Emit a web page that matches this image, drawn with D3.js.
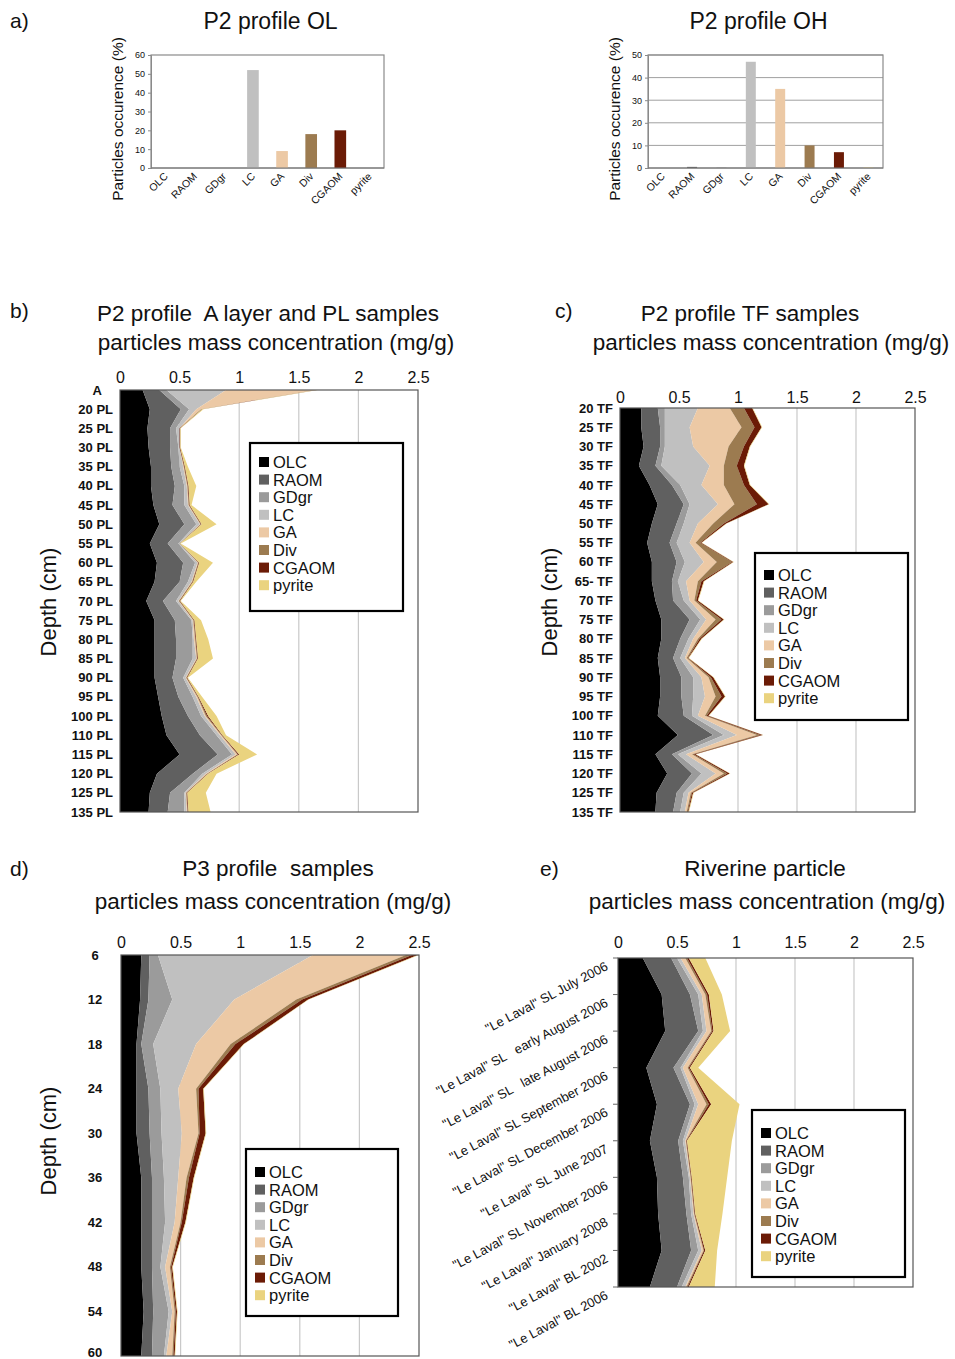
<!DOCTYPE html>
<html><head><meta charset="utf-8">
<script src="https://cdn.jsdelivr.net/npm/d3@7"></script>
<style>
body{margin:0;background:#fff}
text{font-family:"Liberation Sans",Arial,sans-serif;fill:#111;white-space:pre}
</style>
</head><body>
<svg id="c" width="955" height="1359"></svg>
<script>
// ---------- categories / tick labels ----------
const keys = ["OLC","RAOM","GDgr","LC","GA","Div","CGAOM","pyrite"];
const colors = ["#000000","#606060","#9b9b9b","#c0c0c0","#ecc9a5","#9c7b50","#6b1b06","#ead37f"];

const olValues = [0,0,0,52,9,18,20,0];
const ohValues = [0,0.5,0.2,47,35,10,7,0.2];
const olTicks = [0,10,20,30,40,50,60];
const ohTicks = [0,10,20,30,40,50];
const massTicks = [0,0.5,1,1.5,2,2.5];

// ---------- panel b: P2 A layer and PL ----------
const bLabels = ["A","20 PL","25 PL","30 PL","35 PL","40 PL","45 PL","50 PL","55 PL","60 PL","65 PL","70 PL","75 PL","80 PL","85 PL","90 PL","95 PL","100 PL","110 PL","115 PL","120 PL","125 PL","135 PL"];
const bOLC   = [.19,.25,.23,.24,.26,.26,.28,.33,.25,.31,.29,.22,.29,.29,.29,.29,.32,.35,.39,.50,.31,.25,.24];
const bRAOM  = [.14,.26,.19,.18,.17,.20,.16,.21,.15,.22,.21,.14,.17,.18,.18,.15,.17,.22,.28,.32,.30,.17,.16];
const bGDgr  = [.06,.07,.05,.07,.07,.08,.10,.10,.09,.10,.07,.11,.14,.14,.14,.09,.12,.11,.14,.12,.08,.12,.14];
const bLC    = [.50,.06,.03,.01,.03,.02,.03,.03,.01,.02,.03,.02,.01,.01,.03,.02,.03,.03,.03,.03,.03,.01,.02];
const bGA    = [.75,.04,0,0,.005,.005,.005,.005,0,.005,.005,.005,.005,.01,.005,.005,.01,.01,.01,.015,.01,.005,.005];
const bDiv   = [.005,.01,0,0,.005,.005,.005,.005,.005,.005,.005,.005,.005,.005,.005,.005,.005,.01,.005,.005,.005,.005,.005];
const bCGAOM = [.005,0,.005,.005,.005,.005,.005,.005,0,.005,.005,.005,.005,.005,.005,.005,.005,.01,.005,.01,.005,.005,.005];
const bPyrite= [.01,.01,.005,.005,.025,.065,.015,.125,.005,.115,.025,.005,.055,.10,.125,.005,.03,.07,.03,.15,.07,.155,.185];

// ---------- panel c: P2 TF ----------
const cLabels = ["20 TF","25 TF","30 TF","35 TF","40 TF","45 TF","50 TF","55 TF","60 TF","65- TF","70 TF","75 TF","80 TF","85 TF","90 TF","95 TF","100 TF","110 TF","115 TF","120 TF","125 TF","135 TF"];
const cOLC   = [.18,.18,.20,.16,.25,.32,.27,.23,.27,.27,.30,.35,.35,.32,.34,.34,.32,.49,.30,.40,.31,.30];
const cRAOM  = [.14,.16,.14,.14,.19,.22,.21,.19,.21,.17,.15,.24,.16,.13,.18,.18,.22,.30,.14,.21,.17,.15];
const cGDgr  = [.06,.04,.04,.05,.07,.05,.06,.06,.07,.05,.09,.09,.07,.06,.10,.10,.07,.09,.05,.08,.06,.06];
const cLC    = [.28,.21,.24,.41,.18,.24,.12,.11,.16,.07,.05,.05,.04,.04,.07,.10,.05,.11,.07,.12,.04,.04];
const cGA    = [.27,.44,.30,.12,.19,.14,.13,.05,.11,.10,.04,.08,.04,.015,.06,.09,.06,.17,.05,.07,.02,.015];
const cDiv   = [.12,.11,.13,.11,.17,.19,.09,.04,.13,.03,.015,.05,.015,.01,.02,.05,.015,.03,.015,.03,.01,.01];
const cCGAOM = [.07,.06,.05,.06,.05,.10,.02,.01,.01,.02,.015,.02,.015,.005,.02,.03,.015,.02,.015,.02,.01,.005];
const cPyrite= [.005,.005,.005,.005,.005,.005,.005,.005,.005,.005,.005,.005,.005,.005,.005,.005,.005,.005,.005,.005,.005,.005];

// ---------- panel d: P3 profile ----------
const dLabels = ["6","12","18","24","30","36","42","48","54","60"];
const dOLC   = [.17,.16,.13,.13,.13,.17,.17,.17,.19,.17];
const dRAOM  = [.07,.07,.04,.10,.11,.09,.09,.09,.08,.09];
const dGDgr  = [.07,.20,.10,.10,.10,.10,.11,.07,.13,.10];
const dLC    = [1.30,.52,.36,.15,.17,.12,.08,.04,.03,.02];
const dGA    = [.78,.52,.29,.15,.14,.07,.05,.04,.02,.05];
const dDiv   = [.05,.05,.04,.02,.01,.02,.01,.01,.01,.01];
const dCGAOM = [.05,.05,.07,.04,.05,.04,.03,.01,.01,.01];
const dPyrite= [.01,.005,.005,.005,.005,.005,.005,.005,.005,.005];

// ---------- panel e: riverine ----------
const eLabels = ["\"Le Laval\" SL July 2006","\"Le Laval\" SL   early August 2006","\"Le Laval\" SL   late August 2006","\"Le Laval\" SL September 2006","\"Le Laval\" SL December 2006","\"Le Laval\" SL June 2007","\"Le Laval\" SL November 2006","\"Le Laval\" January 2008","\"Le Laval\" BL 2002","\"Le Laval\" BL 2006"];
const eOLC   = [.21,.37,.40,.24,.33,.27,.33,.34,.37,.27];
const eRAOM  = [.24,.24,.28,.23,.28,.24,.22,.24,.25,.23];
const eGDgr  = [.05,.07,.04,.06,.04,.04,.05,.04,.06,.04];
const eLC    = [.03,.03,.03,.02,.03,.02,.01,.02,.03,.03];
const eGA    = [.04,.03,.04,.04,.07,.005,.005,.005,.015,.01];
const eDiv   = [.015,.015,.01,.01,.02,.005,.005,.005,.005,.01];
const eCGAOM = [.015,.015,.01,.01,.02,.005,.005,.005,.01,.01];
const ePyrite= [.14,.11,.14,.07,.24,.38,.30,.23,.10,.22];

const svg = d3.select("#c");
const FONT = "'Liberation Sans',Arial,sans-serif";

function txt(x,y,s,size,opts={}){
  const t = svg.append("text").attr("x",x).attr("y",y).attr("font-size",size).text(s)
    .attr("text-anchor",opts.anchor||"start");
  if(opts.rotate) t.attr("transform",`rotate(${opts.rotate},${x},${y})`);
  if(opts.weight) t.attr("font-weight",opts.weight);
  return t;
}

// ---------- bar panels ----------
function barPanel(o){
  const g = svg.append("g");
  const x = d3.scaleBand().domain(keys).range([o.left,o.right]).paddingInner(o.pad).paddingOuter(o.pad/2);
  const y = d3.scaleLinear().domain([0,o.max]).range([o.bottom,o.top]);
  if(o.grid){
    g.selectAll("line.grid").data(o.ticks.filter(t=>t>0)).join("line")
      .attr("x1",o.left).attr("x2",o.right).attr("y1",d=>y(d)).attr("y2",d=>y(d))
      .attr("stroke","#a0a0a0").attr("stroke-width",1);
  }
  g.append("rect").attr("x",o.left).attr("y",o.top).attr("width",o.right-o.left).attr("height",o.bottom-o.top)
    .attr("fill","none").attr("stroke","#8a8a8a").attr("stroke-width",1.2);
  g.selectAll("rect.bar").data(o.values).join("rect").attr("class","bar")
    .attr("x",(d,i)=>x(keys[i])).attr("width",x.bandwidth())
    .attr("y",d=>y(d)).attr("height",d=>y(0)-y(d)).attr("fill",(d,i)=>colors[i]);
  const ax = g.append("g").attr("transform",`translate(${o.left},0)`)
    .call(d3.axisLeft(y).tickValues(o.ticks).tickSize(3).tickPadding(3));
  ax.select(".domain").attr("stroke","#8a8a8a");
  ax.selectAll(".tick line").attr("stroke","#8a8a8a");
  ax.selectAll("text").attr("font-size",9).attr("font-family",FONT).attr("fill","#333");
  g.append("line").attr("x1",o.left).attr("x2",o.right).attr("y1",y(0)).attr("y2",y(0)).attr("stroke","#777");
  g.selectAll("text.cat").data(keys).join("text").attr("class","cat")
    .attr("transform",d=>`translate(${x(d)+x.bandwidth()/2+3},${o.bottom+9}) rotate(-45)`)
    .attr("text-anchor","end").attr("font-size",10.5).attr("fill","#222").text(d=>d);
  txt((o.left+o.right)/2+o.titleDx,29,o.title,23,{anchor:"middle"});
  txt(o.ylabX,119,"Particles occurence (%)",15.5,{anchor:"middle",rotate:-90});
}

barPanel({left:151,right:384,top:55,bottom:168,max:60,ticks:olTicks,values:olValues,pad:0.6,grid:false,title:"P2 profile OL",titleDx:3,ylabX:123});
barPanel({left:648,right:883,top:55,bottom:168,max:50,ticks:ohTicks,values:ohValues,pad:0.66,grid:true,title:"P2 profile OH",titleDx:-7,ylabX:620});

// ---------- stacked area panels ----------
function legend(x0,y0,w,h,off){
  const g = svg.append("g");
  g.append("rect").attr("x",x0).attr("y",y0).attr("width",w).attr("height",h)
    .attr("fill","#fff").attr("stroke","#000").attr("stroke-width",2.2);
  const it = g.selectAll("g.it").data(keys).join("g").attr("transform",(d,i)=>`translate(${x0+9},${y0+off+i*17.6})`);
  it.append("rect").attr("x",0).attr("y",-5).attr("width",10).attr("height",10).attr("fill",(d,i)=>colors[i]);
  it.append("text").attr("x",14).attr("y",6).attr("font-size",16.5).text(d=>d);
}

function stackPanel(o){
  const rows = o.labels.map((l,i)=>{const r={label:l}; keys.forEach((k,j)=>{r[k]=o.series[j][i];}); return r;});
  const series = d3.stack().keys(keys)(rows);
  const x = d3.scaleLinear().domain([0,2.5]).range([o.left,o.right]);
  const y = d3.scalePoint().domain(o.labels).range([o.top,o.bottom]);
  const id = "clip"+o.name;
  svg.append("clipPath").attr("id",id).append("rect").attr("x",o.left).attr("y",o.top)
    .attr("width",o.right-o.left).attr("height",o.bottom-o.top);
  const g = svg.append("g");
  g.selectAll("line.grid").data(massTicks.slice(1,-1)).join("line")
    .attr("x1",d=>x(d)).attr("x2",d=>x(d)).attr("y1",o.top).attr("y2",o.bottom)
    .attr("stroke","#c9c9c9").attr("stroke-width",1.2);
  const area = d3.area().y(d=>y(d.data.label)).x0(d=>x(d[0])).x1(d=>x(d[1]));
  g.append("g").attr("clip-path",`url(#${id})`).selectAll("path").data(series).join("path")
    .attr("d",area).attr("fill",(d,i)=>colors[i]);
  g.append("rect").attr("x",o.left).attr("y",o.top).attr("width",o.right-o.left).attr("height",o.bottom-o.top)
    .attr("fill","none").attr("stroke","#555").attr("stroke-width",1.2);
  const ax = g.append("g").attr("transform",`translate(0,${o.top})`)
    .call(d3.axisTop(x).tickValues(massTicks).tickFormat(d3.format("~g")).tickSize(0).tickPadding(o.xpad));
  ax.select(".domain").remove();
  ax.selectAll("text").attr("font-size",16).attr("font-family",FONT).attr("fill","#111");
  if(o.rotLabels){
    g.selectAll("line.tk").data(o.labels).join("line").attr("x1",o.left-5).attr("x2",o.left)
      .attr("y1",d=>y(d)).attr("y2",d=>y(d)).attr("stroke","#666");
    g.selectAll("text.yl").data(o.labels).join("text").attr("class","yl")
      .attr("transform",d=>`translate(${o.left-9},${y(d)+11}) rotate(-28)`)
      .attr("text-anchor","end").attr("font-size",13).text(d=>d);
  } else {
    const last = o.labels[o.labels.length-1];
    g.selectAll("text.yl").data(o.labels).join("text").attr("class","yl")
      .attr("x",o.labX).attr("y",d=>y(d)).attr("dy",d=>(o.name==="d"&&d===last)?"0.1em":"0.35em")
      .attr("dx",d=>d==="A"?-11:0)
      .attr("text-anchor",o.labAnchor).attr("font-weight","bold").attr("font-size",13).text(d=>d);
  }
  legend(...o.legend);
}

stackPanel({name:"b",labels:bLabels,series:[bOLC,bRAOM,bGDgr,bLC,bGA,bDiv,bCGAOM,bPyrite],
  left:120,right:418,top:390,bottom:812,xpad:7,labX:113,labAnchor:"end",legend:[250,443,153,168,19]});
stackPanel({name:"c",labels:cLabels,series:[cOLC,cRAOM,cGDgr,cLC,cGA,cDiv,cCGAOM,cPyrite],
  left:620,right:915,top:408,bottom:812,xpad:5,labX:613,labAnchor:"end",legend:[755,553,153,167,22]});
stackPanel({name:"d",labels:dLabels,series:[dOLC,dRAOM,dGDgr,dLC,dGA,dDiv,dCGAOM,dPyrite],
  left:121,right:419,top:955,bottom:1356,xpad:7,labX:95,labAnchor:"middle",legend:[246,1149,152,167,23]});
stackPanel({name:"e",labels:eLabels,series:[eOLC,eRAOM,eGDgr,eLC,eGA,eDiv,eCGAOM,ePyrite],
  left:618,right:913,top:958,bottom:1287,xpad:10,rotLabels:true,legend:[752,1110,153,167,23]});

// ---------- titles & panel letters ----------
txt(10,28,"a)",21);
txt(10,318,"b)",21);
txt(555,318,"c)",21);
txt(10,876,"d)",21);
txt(540,876,"e)",21);

txt(268,321,"P2 profile  A layer and PL samples",22.5,{anchor:"middle"});
txt(276,350,"particles mass concentration (mg/g)",22.5,{anchor:"middle"});
txt(750,321,"P2 profile TF samples",22.5,{anchor:"middle"});
txt(771,350,"particles mass concentration (mg/g)",22.5,{anchor:"middle"});
txt(278,876,"P3 profile  samples",22.5,{anchor:"middle"});
txt(273,909,"particles mass concentration (mg/g)",22.5,{anchor:"middle"});
txt(765,876,"Riverine particle",22.5,{anchor:"middle"});
txt(767,909,"particles mass concentration (mg/g)",22.5,{anchor:"middle"});

txt(56,602,"Depth (cm)",22,{anchor:"middle",rotate:-90});
txt(557,602,"Depth (cm)",22,{anchor:"middle",rotate:-90});
txt(56,1141,"Depth (cm)",22,{anchor:"middle",rotate:-90});
</script>
</body></html>
